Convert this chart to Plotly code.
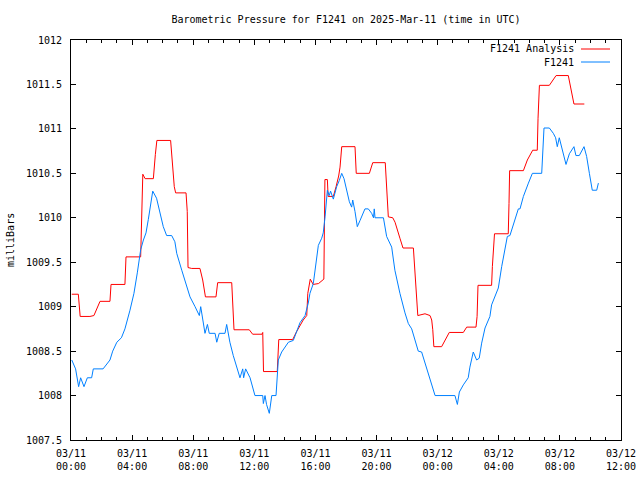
import plotly.graph_objects as go
import pandas as pd

title_text = "Barometric Pressure for F1241 on 2025-Mar-11 (time in UTC)"
base_time = "2025-03-11 00:00"

# F1241 (observed) : hours after 03/11 00:00 UTC, pressure (mb)
obs_hours = [0.05, 0.3, 0.5, 0.63, 0.85, 1.07, 1.35, 1.46, 2.1, 2.55, 2.73, 3.0, 3.3, 3.53,
             3.86, 4.12, 4.34, 4.56, 4.74, 4.91, 5.06, 5.35, 5.6, 5.83, 6.04, 6.26, 6.59,
             6.8, 6.92, 7.25, 7.46, 7.79, 8.12, 8.4, 8.49, 8.77, 8.93, 9.05, 9.43, 9.54,
             9.7, 10.08, 10.19, 10.4, 10.62, 11.06, 11.24, 11.3, 11.43, 11.72, 12.04,
             12.55, 12.59, 12.7, 12.8, 12.98, 13.14, 13.42, 13.57, 13.79, 14.23, 14.55,
             14.99, 15.32, 15.53, 15.64, 15.86, 16.08, 16.19, 16.41, 16.51, 16.63, 16.69,
             16.78, 16.9, 16.99, 17.17, 17.39, 17.56, 17.72, 17.87, 18.04, 18.22, 18.37,
             18.44, 18.59, 18.74, 18.92, 19.24, 19.46, 19.68, 19.8, 19.85, 19.9, 20.45,
             20.66, 20.99, 21.2, 21.53, 21.86, 22.08, 22.3, 22.52, 22.73, 22.95, 23.17,
             23.5, 23.67, 23.83, 25.13, 25.29, 25.42, 25.68, 26.0, 26.11, 26.33, 26.55,
             26.72, 26.88, 27.1, 27.42, 27.53, 27.82, 27.97, 28.19, 28.41, 28.56, 28.73,
             29.06, 29.28, 29.39, 29.61, 29.94, 30.2, 30.81, 30.96, 31.31, 31.57, 31.72,
             31.83, 31.96, 32.18, 32.4, 32.62, 32.92, 33.05, 33.27, 33.58, 33.75, 33.93,
             34.12, 34.41, 34.52]
obs_mb = [1008.4, 1008.3, 1008.1, 1008.2, 1008.1, 1008.2, 1008.2, 1008.3, 1008.3, 1008.4,
          1008.5, 1008.6, 1008.65, 1008.75, 1008.96, 1009.15, 1009.38, 1009.64, 1009.75,
          1009.83, 1009.98, 1010.3, 1010.22, 1010.07, 1009.9, 1009.8, 1009.8, 1009.73,
          1009.6, 1009.41, 1009.3, 1009.11, 1009.0, 1008.9, 1009.0, 1008.7, 1008.8,
          1008.7, 1008.7, 1008.6, 1008.7, 1008.7, 1008.8, 1008.6, 1008.45, 1008.2,
          1008.3, 1008.2, 1008.3, 1008.2, 1008.0, 1008.0, 1007.91, 1008.0, 1007.9,
          1007.8, 1008.0, 1008.0, 1008.4, 1008.49, 1008.6, 1008.62, 1008.82, 1008.9,
          1009.04, 1009.15, 1009.26, 1009.52, 1009.69, 1009.77, 1009.83, 1010.01,
          1010.17, 1010.31, 1010.25, 1010.3, 1010.21, 1010.35, 1010.42, 1010.5, 1010.44,
          1010.31, 1010.18, 1010.12, 1010.2, 1010.07, 1009.9, 1009.97, 1010.1, 1010.1,
          1010.05, 1010.0, 1010.1, 1010.0, 1010.0, 1009.79, 1009.67, 1009.41, 1009.15,
          1008.93, 1008.81, 1008.75, 1008.62, 1008.5, 1008.49, 1008.37, 1008.19, 1008.09,
          1008.0, 1008.0, 1007.9, 1008.04, 1008.12, 1008.2, 1008.32, 1008.49, 1008.4,
          1008.42, 1008.59, 1008.76, 1008.89, 1009.02, 1009.15, 1009.21, 1009.45,
          1009.67, 1009.79, 1009.8, 1009.98, 1010.1, 1010.1, 1010.24, 1010.39, 1010.5,
          1010.5, 1011.01, 1011.01, 1010.95, 1010.9, 1010.8, 1010.9, 1010.76, 1010.6,
          1010.72, 1010.8, 1010.7, 1010.7, 1010.8, 1010.69, 1010.5, 1010.31, 1010.31,
          1010.39]

# F1241 Analysis : hours after 03/11 00:00 UTC, pressure (mb)
ana_hours = [0.05, 0.48, 0.6, 1.24, 1.5, 1.9, 2.55, 2.62, 3.53, 3.6, 4.56, 4.63, 4.7, 4.85,
             5.39, 5.52, 5.62, 6.52, 6.62, 6.76, 6.85, 7.53, 7.61, 7.66, 7.9, 8.44, 8.62,
             8.8, 9.49, 9.6, 10.52, 10.6, 10.67, 11.67, 11.89, 12.5, 12.55, 12.6, 13.5,
             13.6, 14.51, 14.77, 15.2, 15.43, 15.5, 15.66, 15.85, 16.2, 16.55, 16.62,
             16.78, 16.83, 17.17, 17.35, 17.52, 17.61, 17.72, 18.59, 18.67, 19.53, 19.75,
             20.57, 20.68, 20.77, 21.06, 21.21, 21.53, 21.73, 22.41, 22.5, 22.7, 23.17,
             23.5, 23.61, 23.68, 23.75, 24.26, 24.76, 25.68, 25.9, 26.51, 26.58, 26.64,
             27.53, 27.58, 27.72, 28.62, 28.67, 28.71, 29.61, 29.87, 30.22, 30.52, 30.57,
             30.66, 31.31, 31.75, 32.55, 32.77, 32.92, 33.6]
ana_mb = [1009.14, 1009.14, 1008.89, 1008.89, 1008.9, 1009.06, 1009.06, 1009.25, 1009.25,
          1009.56, 1009.56, 1010.03, 1010.49, 1010.44, 1010.44, 1010.71, 1010.87, 1010.87,
          1010.69, 1010.35, 1010.28, 1010.28, 1010.07, 1009.44, 1009.43, 1009.43, 1009.3,
          1009.11, 1009.11, 1009.27, 1009.27, 1009.0, 1008.74, 1008.74, 1008.69, 1008.69,
          1008.71, 1008.27, 1008.27, 1008.63, 1008.63, 1008.72, 1008.85, 1008.9, 1009.15,
          1009.31, 1009.25, 1009.26, 1009.31, 1010.43, 1010.43, 1010.24, 1010.24, 1010.35,
          1010.47, 1010.57, 1010.8, 1010.8, 1010.5, 1010.5, 1010.62, 1010.62, 1010.31,
          1010.01, 1010.0, 1009.95, 1009.77, 1009.66, 1009.66, 1009.41, 1008.9, 1008.92,
          1008.9, 1008.85, 1008.74, 1008.55, 1008.55, 1008.71, 1008.71, 1008.77, 1008.77,
          1008.89, 1009.24, 1009.24, 1009.45, 1009.82, 1009.82, 1010.16, 1010.53, 1010.53,
          1010.65, 1010.76, 1010.76, 1011.12, 1011.49, 1011.49, 1011.6, 1011.6, 1011.42,
          1011.28, 1011.28]

legend_names = ["F1241 Analysis", "F1241"]
colors = ["#ff0000", "#0080ff"]

t0 = pd.Timestamp(base_time)
obs_t = [t0 + pd.Timedelta(hours=h) for h in obs_hours]
ana_t = [t0 + pd.Timedelta(hours=h) for h in ana_hours]

FONT = "DejaVu Sans Mono"

fig = go.Figure()
fig.add_trace(go.Scatter(x=ana_t, y=ana_mb, mode="lines", name=legend_names[0],
                         line=dict(color=colors[0], width=1)))
fig.add_trace(go.Scatter(x=obs_t, y=obs_mb, mode="lines", name=legend_names[1],
                         line=dict(color=colors[1], width=1)))

fig.update_layout(
    width=640, height=480,
    margin=dict(l=71, r=19, t=40, b=40, autoexpand=False),
    paper_bgcolor="white", plot_bgcolor="white",
    font=dict(family=FONT, size=10, color="black"),
    showlegend=False,
    title=dict(text=title_text, x=(71 + 275) / 640, xanchor="center",
               y=1 - 19 / 480, yanchor="middle", font=dict(family=FONT, size=10)),
)

fig.update_xaxes(
    type="date", automargin=False,
    range=[t0, t0 + pd.Timedelta(hours=36)],
    dtick=4 * 3600000, tick0=t0,
    tickformat="%m/%d<br>%H:%M",
    ticks="inside", ticklen=5, tickcolor="black", tickwidth=1,
    minor=dict(dtick=3600000, ticks="inside", ticklen=3, tickcolor="black", tickwidth=1),
    showline=True, linecolor="black", linewidth=1, mirror="allticks",
    showgrid=False, zeroline=False,
    tickfont=dict(family=FONT, size=10),
    ticklabelstandoff=4,
)
fig.update_yaxes(
    automargin=False,
    range=[1007.5, 1012], dtick=0.5, tick0=1007.5,
    tickformat="~f",
    ticks="inside", ticklen=5, tickcolor="black", tickwidth=1,
    showline=True, linecolor="black", linewidth=1, mirror="allticks",
    showgrid=False, zeroline=False,
    tickfont=dict(family=FONT, size=10),
    ticklabelstandoff=6,
)

# y-axis label
fig.add_annotation(text="milliBars", xref="paper", yref="paper",
                   x=(10 - 71) / 550, y=0.5, xanchor="center", yanchor="middle",
                   textangle=-90, showarrow=False, font=dict(family=FONT, size=10))

# gnuplot-style key (text right-aligned, line sample at right)
for i, name in enumerate(legend_names):
    ypix = 49 + 13 * i
    yp = 1 - (ypix - 40) / 400
    fig.add_annotation(text=name, xref="paper", yref="paper",
                       x=(576 - 71) / 550, y=yp, xanchor="right", yanchor="middle",
                       showarrow=False, font=dict(family=FONT, size=10))
    fig.add_shape(type="line", xref="paper", yref="paper",
                  x0=(581 - 71) / 550, x1=(610 - 71) / 550, y0=yp, y1=yp,
                  line=dict(color=colors[i], width=1))

fig.write_html("out.html", config={"displayModeBar": False},
               post_script="document.body.style.margin='0';document.body.style.overflow='hidden';")
